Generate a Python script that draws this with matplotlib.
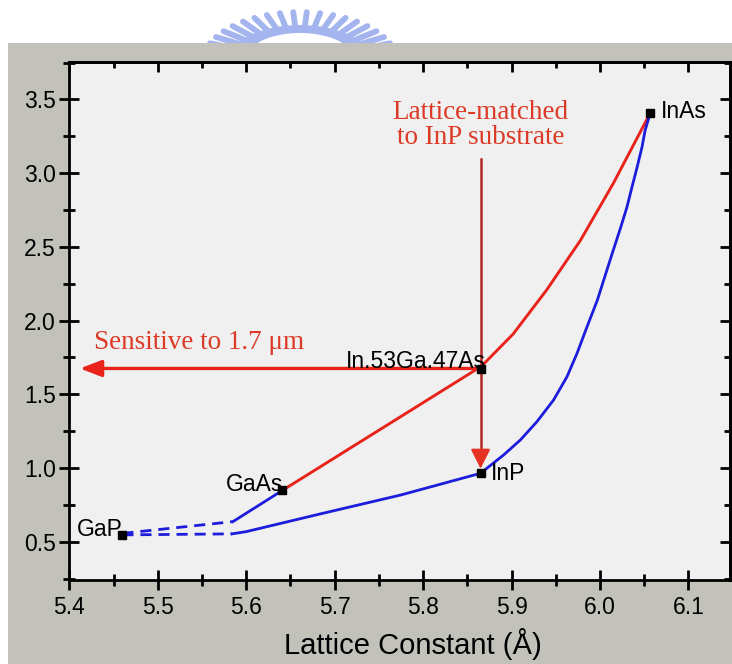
import numpy as np
import matplotlib
matplotlib.use("Agg")
import matplotlib.pyplot as plt
from matplotlib.patches import Rectangle
from matplotlib.lines import Line2D
from matplotlib.ticker import MultipleLocator

# ---- data (lattice constant in Å, cutoff wavelength in μm) ----
materials = ["GaP", "GaAs", "InP", "InAs", "In.53Ga.47As"]
lattice = [5.46, 5.641, 5.865, 6.057, 5.866]
wavelength = [0.546, 0.848, 0.964, 3.41, 1.672]

# InGaAs (direct gap) – red
red_x = [5.641, 5.866, 5.902, 5.940, 5.978, 6.015, 6.057]
red_y = [0.848, 1.69, 1.91, 2.21, 2.545, 2.93, 3.41]

# GaInP / GaAs branch (upper blue)
blue_up_dash_x = [5.46, 5.585]
blue_up_dash_y = [0.556, 0.636]
blue_up_x = [5.585, 5.641]
blue_up_y = [0.636, 0.848]

# GaP-InP-InAs branch (lower blue)
blue_lo_dash_x = [5.46, 5.584]
blue_lo_dash_y = [0.546, 0.553]
blue_lo_x = [5.584, 5.60, 5.68, 5.775, 5.865, 5.891, 5.91, 5.9287, 5.9475, 5.9627, 5.974,
             5.9853, 5.997, 6.006, 6.015, 6.023, 6.0305, 6.0362, 6.042, 6.0475, 6.051, 6.057]
blue_lo_y = [0.553, 0.568, 0.683, 0.817, 0.964, 1.088, 1.19, 1.314, 1.461, 1.619, 1.777,
             1.957, 2.138, 2.308, 2.477, 2.624, 2.77, 2.906, 3.041, 3.177, 3.29, 3.41]

xticks = [5.4, 5.5, 5.6, 5.7, 5.8, 5.9, 6.0, 6.1]
yticks = [0.5, 1.0, 1.5, 2.0, 2.5, 3.0, 3.5]

W, H = 732, 664
fig = plt.figure(figsize=(W / 100, H / 100), dpi=100)
fig.patch.set_facecolor("white")

def fx(px):
    return px / W

def fy(py):
    return (H - py) / H

# watermark (partially hidden logo)
cx, cy, a, b = 300, 62, 97, 50
wm_color = "#a4b4ee"
for t in np.linspace(np.deg2rad(14), np.deg2rad(166), 20):
    x0, y0 = cx + a * 0.70 * np.cos(t), cy - b * 0.70 * np.sin(t)
    x1, y1 = cx + a * 1.0 * np.cos(t), cy - b * 1.0 * np.sin(t)
    fig.add_artist(Line2D([fx(x0), fx(x1)], [fy(y0), fy(y1)], transform=fig.transFigure,
                          color=wm_color, lw=4.2, solid_capstyle="round", zorder=-3))
tt = np.linspace(np.deg2rad(5), np.deg2rad(175), 60)
ring_x = np.concatenate([cx + a * 0.74 * np.cos(tt), (cx + a * 0.58 * np.cos(tt))[::-1]])
ring_y = np.concatenate([cy - b * 0.74 * np.sin(tt), (cy - b * 0.58 * np.sin(tt))[::-1]])
fig.add_artist(plt.Polygon(np.column_stack([fx(ring_x), fy(ring_y)]), closed=True,
                           transform=fig.transFigure, facecolor=wm_color, edgecolor="none", zorder=-3))

# gray panel
fig.add_artist(Rectangle((fx(8), 0), 1 - fx(8), fy(42.5), transform=fig.transFigure,
                         facecolor="#c2c2ba", edgecolor="none", zorder=-1))

left, right, top, bottom = 69.3, 730, 62.3, 580
ax = fig.add_axes([fx(left), fy(bottom), fx(right) - fx(left), fy(top) - fy(bottom)])
ax.set_facecolor("#f0f0f0")
ax.set_xlim(5.4, 6.147)
ax.set_ylim(0.24, 3.752)

sans = "Liberation Sans"
serif = "Liberation Serif"
red = "#e8231c"
blue = "#1c1cdc"

ax.plot(red_x, red_y, color=red, lw=2.1, zorder=3)
ax.plot(blue_up_dash_x, blue_up_dash_y, color=blue, lw=2.0, ls=(0, (4, 2.5)), zorder=3)
ax.plot(blue_lo_dash_x, blue_lo_dash_y, color=blue, lw=2.0, ls=(0, (4, 2.5)), zorder=3)
ax.plot(blue_up_x, blue_up_y, color=blue, lw=2.0, zorder=3)
ax.plot(blue_lo_x, blue_lo_y, color=blue, lw=2.0, zorder=3)

# arrows
ax.annotate("", xy=(5.412, 1.675), xytext=(lattice[4], 1.675),
            arrowprops=dict(arrowstyle="-|>,head_length=0.65,head_width=0.25", mutation_scale=20,
                            lw=2.4, color=red, shrinkA=0, shrinkB=0), zorder=4)
ax.plot([lattice[2], lattice[2]], [3.098, 1.06], color="#b32a22", lw=1.8, zorder=4)
ax.annotate("", xy=(lattice[2], 0.995), xytext=(lattice[2], 1.09),
            arrowprops=dict(arrowstyle="-|>,head_length=0.6,head_width=0.3", mutation_scale=20,
                            lw=1.5, color="#e63222", shrinkA=0, shrinkB=0), zorder=4)

# markers
ax.plot(lattice, wavelength, ls="none", marker="s", ms=6, color="black", zorder=6)

# labels of materials
lab_fs = 16.5
ax.text(5.434, 0.585, materials[0], fontsize=lab_fs, family=sans, ha="center", va="center", zorder=7)
ax.text(5.61, 0.89, materials[1], fontsize=lab_fs, family=sans, ha="center", va="center", zorder=7)
ax.text(5.877, 0.965, materials[2], fontsize=lab_fs, family=sans, ha="left", va="center", zorder=7)
ax.text(6.069, 3.415, materials[3], fontsize=lab_fs, family=sans, ha="left", va="center", zorder=7)
ax.text(5.871, 1.72, materials[4], fontsize=lab_fs, family=sans, ha="right", va="center", zorder=7)

ax.text(5.865, 3.33, "Lattice-matched\nto InP substrate", fontsize=19.5, family=serif,
        color="#dc3a26", ha="center", va="center", linespacing=1.0, zorder=7)
ax.text(5.428, 1.85, "Sensitive to 1.7 μm", fontsize=19.5, family=serif,
        color="#dc3a26", ha="left", va="center", zorder=7)

# axes / ticks
for s in ax.spines.values():
    s.set_linewidth(2.0)
    s.set_color("black")
ax.set_xticks(xticks)
ax.set_yticks(yticks)
ax.set_xticklabels([f"{v:.1f}" for v in xticks], fontsize=16.5, family=sans)
ax.set_yticklabels([f"{v:.1f}" for v in yticks], fontsize=16.5, family=sans)
ax.xaxis.set_minor_locator(MultipleLocator(0.05))
ax.yaxis.set_minor_locator(MultipleLocator(0.25))
ax.tick_params(which="major", direction="inout", length=15, width=2.0)
ax.tick_params(which="minor", direction="inout", length=8.5, width=2.0)
ax.tick_params(axis="x", which="major", pad=4)
ax.tick_params(axis="y", which="major", pad=2)

secx = ax.secondary_xaxis("top")
secx.set_xticks(xticks)
secx.xaxis.set_minor_locator(MultipleLocator(0.05))
secx.tick_params(which="major", direction="in", length=7, width=2.0, labeltop=False)
secx.tick_params(which="minor", direction="in", length=4.5, width=2.0)
secx.spines["top"].set_linewidth(2.0)
secy = ax.secondary_yaxis("right")
secy.set_yticks(yticks)
secy.yaxis.set_minor_locator(MultipleLocator(0.25))
secy.tick_params(which="major", direction="in", length=7, width=2.0, labelright=False)
secy.tick_params(which="minor", direction="in", length=4.5, width=2.0)
secy.spines["right"].set_linewidth(2.0)

fig.text(fx(413), fy(644), "Lattice Constant (Å)", fontsize=21, family=sans,
         ha="center", va="center")

fig.savefig("out.png", dpi=100, facecolor=fig.get_facecolor())
